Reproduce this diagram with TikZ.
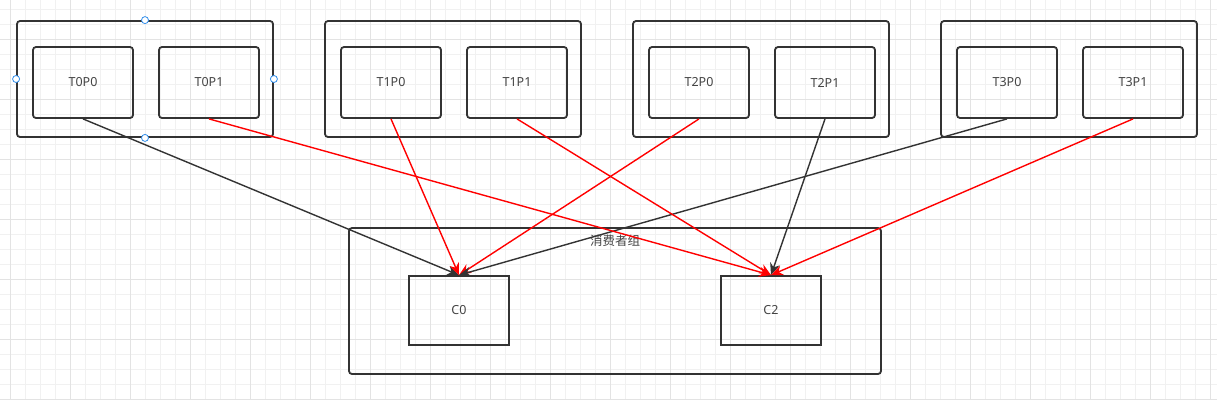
\documentclass[tikz,border=0pt]{standalone}
\usepackage{fontspec}
\setmainfont{Noto Sans}
\newfontfamily\cjk{Noto Sans CJK SC}
\usetikzlibrary{arrows.meta,positioning}
\definecolor{line}{HTML}{333333}
\definecolor{txt}{HTML}{444444}
\definecolor{arrowred}{HTML}{FF0000}
\definecolor{gridminor}{HTML}{F1F1F1}
\definecolor{gridmajor}{HTML}{E3E3E3}
\definecolor{handle}{HTML}{2F8DEB}

\begin{document}
\begin{tikzpicture}[x=1pt,y=-1pt,->,>={Stealth[length=12pt,width=10pt]},line width=1.4pt,font=\fontsize{12.5}{14}\selectfont]
  \tikzstyle{group}=[draw=line,line width=1.8pt,rounded corners=3pt,minimum width=256pt,minimum height=116pt]
  \tikzstyle{part}=[draw=line,line width=1.8pt,rounded corners=3pt,minimum width=100pt,minimum height=71pt,text=txt]
  \tikzstyle{consumer}=[draw=line,line width=1.8pt,minimum width=100pt,minimum height=69pt,text=txt]
  \tikzstyle{handle}=[circle,draw=handle,fill=white,line width=0.8pt,inner sep=0pt,minimum size=7pt]

  \useasboundingbox (0,0) rectangle (1217,400);
  \fill[white] (0,0) rectangle (1217,400);
  % background grid
  \foreach \x in {10,25,...,1210} \draw[-,gridminor,line width=1pt] (\x,0) -- (\x,400);
  \foreach \y in {9,24,...,399} \draw[-,gridminor,line width=1pt] (0,\y) -- (1217,\y);
  \foreach \x in {10,70,...,1210} \draw[-,gridmajor,line width=1pt] (\x,0) -- (\x,400);
  \foreach \y in {39,99,...,399} \draw[-,gridmajor,line width=1pt] (0,\y) -- (1217,\y);

  % topics
  \node[group]                          (G0) at (145,79) {};
  \node[group,node distance=308pt]      (G1) [right of=G0] {};
  \node[group,node distance=308pt]      (G2) [right of=G1] {};
  \node[group,node distance=308pt]      (G3) [right of=G2] {};

  \node[part]                           (T0P0) at (83,82.5) {T0P0};
  \node[part,node distance=126pt]       (T0P1) [right of=T0P0] {T0P1};
  \node[part,node distance=182pt]       (T1P0) [right of=T0P1] {T1P0};
  \node[part,node distance=126pt]       (T1P1) [right of=T1P0] {T1P1};
  \node[part,node distance=182pt]       (T2P0) [right of=T1P1] {T2P0};
  \node[part,node distance=126pt]       (T2P1) [right of=T2P0] {T2P1};
  \node[part,node distance=182pt]       (T3P0) [right of=T2P1] {T3P0};
  \node[part,node distance=126pt]       (T3P1) [right of=T3P0] {T3P1};

  % selection handles
  \node[handle] (h1) at (G0.north) {};
  \node[handle] (h2) at (G0.west) {};
  \node[handle] (h3) at (G0.east) {};
  \node[handle] (h4) at (G0.south) {};

  % consumer group
  \node[group,minimum width=532pt,minimum height=146pt] (CG) at (615,301) {};
  \node[text=txt] (CGlabel) at (615,241) {\cjk 消费者组};
  \node[consumer]                       (C0) at (459,310.5) {C0};
  \node[consumer,node distance=312pt]   (C2) [right of=C0] {C2};

  \path (T0P0.south) edge[draw=line]       (C0.north)
        (T1P0.south) edge[draw=arrowred]   (C0.north)
        (T2P0.south) edge[draw=arrowred]   (C0.north)
        (T3P0.south) edge[draw=line]       (C0.north)
        (T0P1.south) edge[draw=arrowred]   (C2.north)
        (T1P1.south) edge[draw=arrowred]   (C2.north)
        (T2P1.south) edge[draw=line]       (C2.north)
        (T3P1.south) edge[draw=arrowred]   (C2.north);
\end{tikzpicture}
\end{document}
